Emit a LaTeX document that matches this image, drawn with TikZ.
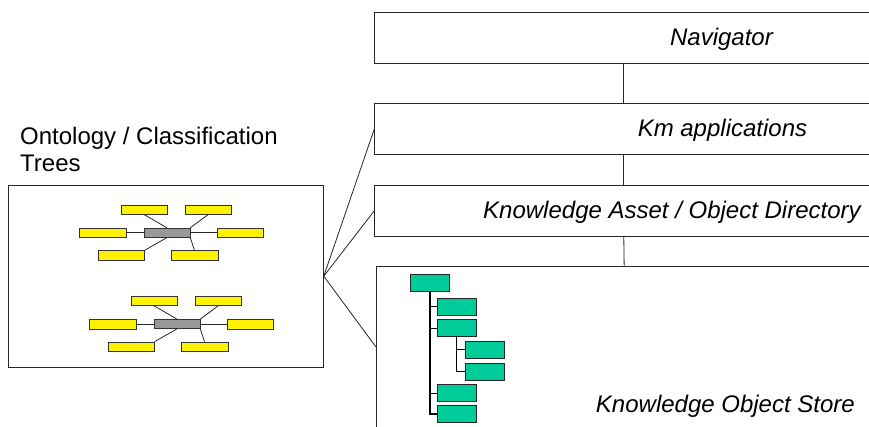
\documentclass[tikz,border=0pt]{standalone}
\usepackage{fontspec}
\setmainfont{Liberation Sans}
\definecolor{kmgreen}{RGB}{0,204,153}

\begin{document}
\begin{tikzpicture}[x=1pt,y=-1pt,
  layer/.style={draw=black!85,line width=0.9pt,minimum width=497.4pt,minimum height=50.6pt,inner sep=0pt,anchor=north west},
  lbl/.style={font=\fontsize{24}{29}\selectfont\itshape,inner sep=0pt},
  wire/.style={draw=black!85,line width=0.8pt},
  leaf/.style={draw=black!80,fill=yellow,minimum width=46.5pt,minimum height=9.6pt,inner sep=0pt},
  hub/.style={draw=black!80,fill=black!40,minimum width=46pt,minimum height=9.3pt,inner sep=0pt},
  obj/.style={draw=black!85,fill=kmgreen,minimum width=39pt,minimum height=17pt,inner sep=0pt}]
  \useasboundingbox (0,0) rectangle (869,426);
  \clip (0,0) rectangle (869,426);

  % layers, cut off at the right edge
  \node[layer] (nav) at (374.3,12.3) {};
  \node[layer] (km) at (374.3,103.3) {};
  \node[layer] (ka) at (374.3,185) {};
  \node[layer,minimum width=498pt,minimum height=200pt] (store) at (376,265.7) {};
  \node[lbl] (navtxt) at ([xshift=98pt,yshift=-1.4pt]nav.center) {Navigator};
  \node[lbl] (kmtxt) at ([xshift=99pt,yshift=-1.3pt]km.center) {Km applications};
  \node[lbl] (katxt) at ([xshift=48.5pt,yshift=-1.5pt]ka.center) {Knowledge Asset / Object Directory};
  \node[lbl,anchor=east] (storetxt) at (855,406.7) {Knowledge Object Store};

  \draw[wire] (nav) -- (km);
  \draw[wire] (km) -- (ka);
  \draw[wire] (ka) -- (store);

  % ontology box
  \node[draw=black!85,line width=0.9pt,minimum width=315pt,minimum height=182.3pt,inner sep=0pt] (ont) at (165.8,276.2) {};
  \node[anchor=base west,align=left,font=\fontsize{24}{27.6}\selectfont,inner sep=0pt] (onttxt) at (20,171.7) {Ontology / Classification\\Trees};

  \coordinate (storein) at ([yshift=-81.3pt]store.north west);
  \draw[wire] (ont.east) -- (km.west);
  \draw[wire] (ont.east) -- (ka.west);
  \draw[wire] (ont.east) -- (storein);

  \foreach \t/\dx/\dy in {a/0/0,b/10/91.3} {
    \begin{scope}[shift={(\dx,\dy)}]
      \node[hub] (\t-hub) at (167,232.7) {};
      \node[leaf] (\t-tl) at (144,209.5) {};
      \node[leaf] (\t-tr) at (208.2,209.5) {};
      \node[leaf] (\t-l) at (102.7,232.7) {};
      \node[leaf] (\t-r) at (240.2,232.7) {};
      \node[leaf] (\t-bl) at (121.2,255.3) {};
      \node[leaf] (\t-br) at (194.5,255.3) {};
      \draw[wire] (\t-tl.south) -- (\t-hub.north);
      \draw[wire] (\t-tr.south) -- (\t-hub.north east);
      \draw[wire] (\t-l.east) -- (\t-hub.west);
      \draw[wire] (\t-hub.east) -- (\t-r.west);
      \draw[wire] (\t-hub.south) -- (\t-bl.north east);
      \draw[wire] (\t-hub.south east) -- (\t-br.north);
    \end{scope}
  }

  % object store tree
  \node[obj] (root) at (429.8,282.8) {};
  \node[obj] (c1) at (456.3,306.8) {};
  \node[obj] (c2) at (456.3,328) {};
  \node[obj] (gc1) at (484.8,349.8) {};
  \node[obj] (gc2) at (484.8,371.3) {};
  \node[obj] (c3) at (456.3,393) {};
  \node[obj] (c4) at (456.3,414) {};
  \draw[line width=1.5pt] (root.south) |- (c4.west);
  \foreach \c in {c1,c2,c3}
    \draw[line width=1pt] (root.south |- \c.west) -- (\c.west);
  \draw[line width=1.3pt] (c2.south) |- (gc2.west);
  \draw[line width=1pt] (c2.south |- gc1.west) -- (gc1.west);
\end{tikzpicture}
\end{document}
